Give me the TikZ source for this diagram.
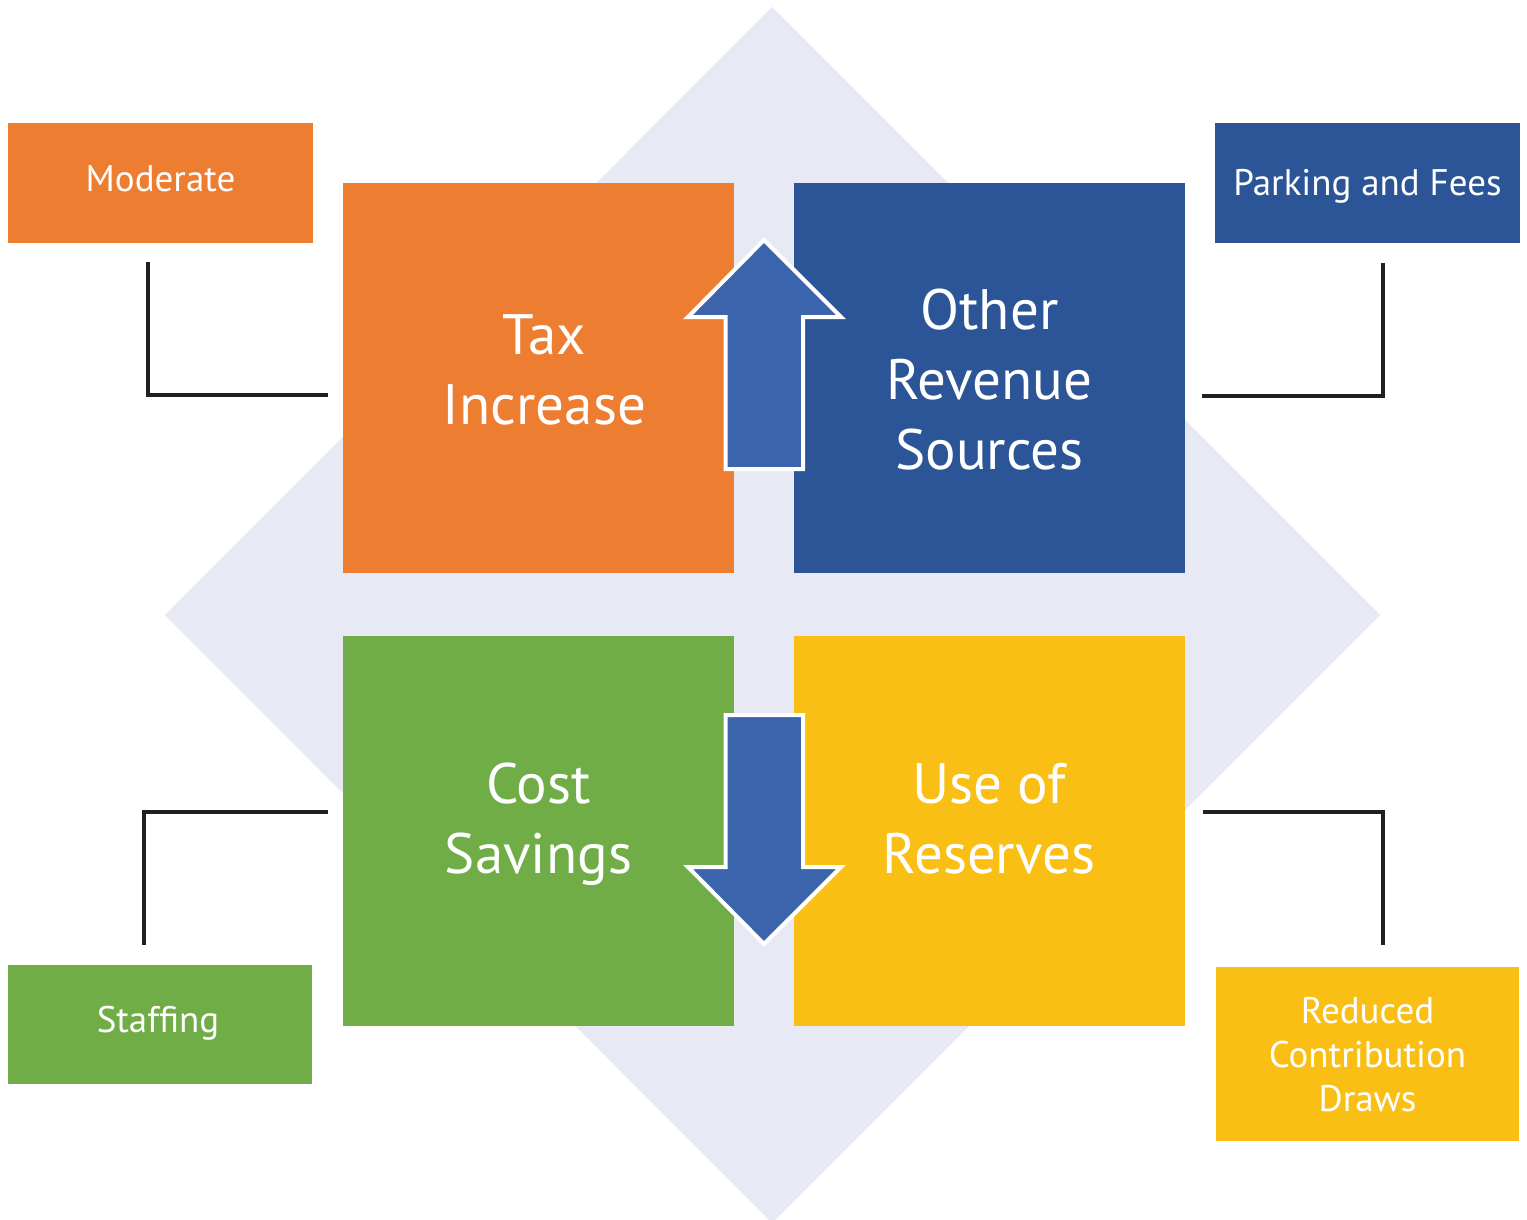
\documentclass[tikz,border=0pt]{standalone}
\usepackage{fontspec}
\setmainfont{PT Sans}
\usetikzlibrary{calc}

\definecolor{cOrange}{HTML}{ED7D31}
\definecolor{cBlue}{HTML}{2B5597}
\definecolor{cGreen}{HTML}{70AD47}
\definecolor{cYellow}{HTML}{FABF14}
\definecolor{cBack}{HTML}{E7E9F5}
\definecolor{cArrow}{HTML}{3B64AC}
\definecolor{cLine}{HTML}{231F20}

\tikzset{
  bigbox/.style={rectangle, inner sep=0pt, minimum width=391pt, minimum height=390pt},
  bigtext/.style={text=white, align=center, inner sep=0pt, font=\fontsize{57}{70}\selectfont},
  tagbox/.style={rectangle, inner sep=0pt, minimum width=305pt, minimum height=120pt},
  tagtext/.style={text=white, align=center, inner sep=0pt, font=\fontsize{37}{44}\selectfont},
  link/.style={draw=cLine, line width=4.5pt, line join=miter},
  bigarrow/.style={fill=cArrow, draw=white, line width=4pt, line join=miter},
}

\begin{document}
\begin{tikzpicture}[x=1pt, y=-1pt]
  \clip (0,0) rectangle (1527,1219);
  \fill[white] (0,0) rectangle (1527,1219);

  % background diamond
  \fill[cBack] (772,7) -- (1380,615) -- (772,1223) -- (165,615) -- cycle;

  % four main areas
  \node[bigbox, fill=cOrange] (tax)  at (538.5,378)   {};
  \node[bigbox, fill=cBlue]   (oth)  at (989.5,378)   {};
  \node[bigbox, fill=cGreen]  (cost) at (538.5,830.5) {};
  \node[bigbox, fill=cYellow] (res)  at (989,830.5)   {};
  \node[bigtext] (taxT)  at ([shift={(6,-8)}]tax.center)   {Tax\\Increase};
  \node[bigtext] (othT)  at ([shift={(0,2)}]oth.center)    {Other\\Revenue\\Sources};
  \node[bigtext] (costT) at ([shift={(0,-6)}]cost.center)  {Cost\\Savings};
  \node[bigtext] (resT)  at ([shift={(0,-12)}]res.center)  {Use of\\Reserves};

  % detail tags
  \node[tagbox, fill=cOrange] (mod)   at (160.5,183)  {};
  \node[tagbox, fill=cBlue]   (park)  at (1367.5,183) {};
  \node[tagbox, fill=cGreen, minimum width=304pt, minimum height=119pt] (staff) at (160,1024.5) {};
  \node[tagbox, fill=cYellow, minimum width=303pt, minimum height=174pt] (red) at (1367.5,1054) {};
  \node[tagtext] (modT)   at ([shift={(0,-4)}]mod.center)    {Moderate};
  \node[tagtext] (parkT)  at ([shift={(0,3)}]park.center)    {Parking and Fees};
  \node[tagtext] (staffT) at ([shift={(-2,-1)}]staff.center) {Staffing};
  \node[tagtext] (redT)   at ([shift={(0,1)}]red.center)     {Reduced\\Contribution\\Draws};

  % elbow connectors between tags and areas
  \draw[link] ($(mod.south)+(-12.5,19)$) |- ($(tax.west)+(-15,17)$);
  \draw[link] ($(park.south)+(15.5,20)$) |- ($(oth.east)+(17,18)$);
  \draw[link] ($(staff.north)+(-16,-20)$) |- ($(cost.west)+(-15,-18.5)$);
  \draw[link] ($(red.north)+(15.5,-22)$) |- ($(res.east)+(18,-18.5)$);

  % up and down block arrows
  \draw[bigarrow] (764,240) -- (841,317) -- (803,317) -- (803,469)
    -- (725.5,469) -- (725.5,317) -- (688,317) -- cycle;
  \draw[bigarrow] (725.5,715) -- (803,715) -- (803,867) -- (841,867)
    -- (764,944) -- (688,867) -- (725.5,867) -- cycle;
\end{tikzpicture}
\end{document}
